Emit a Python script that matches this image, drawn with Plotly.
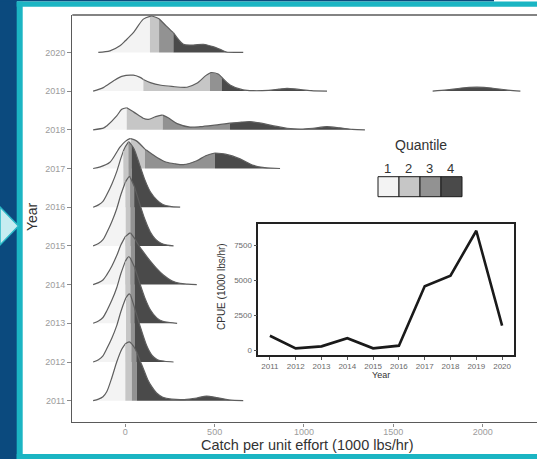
import plotly.graph_objects as go

# ---------------- data ----------------
years = [2011, 2012, 2013, 2014, 2015, 2016, 2017, 2018, 2019, 2020]

# ridge outlines: CPUE value and ridge height (in units of row spacing)
ridge_x_2011 = [-180, -150, -125, -104, -75, -48, -20, 0, 22, 36, 50, 64, 80, 100, 125, 150, 175, 210, 260, 330, 400, 455, 510, 580, 660]
ridge_h_2011 = [0, 0.04, 0.1, 0.23, 0.6, 1.0, 1.33, 1.47, 1.52, 1.47, 1.38, 1.25, 1.06, 0.84, 0.55, 0.35, 0.2, 0.09, 0.04, 0.03, 0.07, 0.12, 0.08, 0.02, 0]
ridge_x_2012 = [-180, -150, -125, -104, -75, -48, -25, 0, 4, 22, 30, 52, 82, 120, 150, 180, 220, 270]
ridge_h_2012 = [0, 0.06, 0.16, 0.34, 0.62, 0.94, 1.3, 1.62, 1.66, 1.76, 1.72, 1.4, 0.94, 0.42, 0.17, 0.06, 0.02, 0]
ridge_x_2013 = [-180, -150, -125, -104, -75, -48, -25, 0, 18, 28, 52, 80, 110, 140, 176, 210, 250, 290]
ridge_h_2013 = [0, 0.06, 0.15, 0.32, 0.6, 0.92, 1.28, 1.6, 1.72, 1.69, 1.45, 1.05, 0.65, 0.35, 0.14, 0.05, 0.02, 0]
ridge_x_2014 = [-180, -150, -125, -104, -75, -48, -25, 0, 25, 30, 54, 73, 100, 138, 175, 213, 260, 306, 350, 400]
ridge_h_2014 = [0, 0.05, 0.12, 0.25, 0.48, 0.75, 1.02, 1.24, 1.33, 1.33, 1.18, 1.03, 0.85, 0.62, 0.42, 0.25, 0.1, 0.03, 0.01, 0]
ridge_x_2015 = [-180, -150, -125, -104, -75, -48, -25, 0, 2, 22, 28, 52, 80, 110, 140, 170, 200, 235, 270]
ridge_h_2015 = [0, 0.06, 0.16, 0.34, 0.63, 0.96, 1.32, 1.64, 1.66, 1.79, 1.77, 1.52, 1.1, 0.68, 0.36, 0.17, 0.07, 0.02, 0]
ridge_x_2016 = [-180, -150, -125, -104, -75, -48, -25, -11, 0, 17, 20, 36, 50, 80, 110, 140, 176, 210, 250, 307]
ridge_h_2016 = [0, 0.06, 0.15, 0.32, 0.6, 0.92, 1.26, 1.45, 1.56, 1.68, 1.69, 1.6, 1.5, 1.1, 0.7, 0.4, 0.19, 0.07, 0.02, 0]
ridge_x_2017 = [-180, -140, -86, -30, 0, 26, 30, 60, 110, 120, 180, 232, 280, 325, 400, 450, 502, 560, 642, 717, 780, 866]
ridge_h_2017 = [0, 0.04, 0.16, 0.55, 0.7, 0.77, 0.77, 0.72, 0.5, 0.47, 0.28, 0.16, 0.12, 0.1, 0.2, 0.33, 0.4, 0.37, 0.25, 0.08, 0.02, 0]
ridge_x_2018 = [-180, -120, -104, -48, -20, 8, 50, 100, 129, 170, 204, 209, 240, 290, 362, 420, 500, 586, 650, 698, 760, 830, 905, 980, 1050, 1128, 1200, 1270, 1341]
ridge_h_2018 = [0, 0.05, 0.1, 0.36, 0.53, 0.57, 0.45, 0.3, 0.27, 0.34, 0.38, 0.38, 0.31, 0.16, 0.07, 0.08, 0.12, 0.17, 0.2, 0.21, 0.17, 0.1, 0.04, 0.02, 0.04, 0.08, 0.05, 0.01, 0]
ridge_x_2019 = [-180, -123, -67, -20, 45, 80, 101, 140, 200, 260, 345, 400, 450, 474, 483, 520, 539, 586, 660, 720, 800, 860, 905, 960, 1040, 1129]
ridge_h_2019 = [0, 0.09, 0.26, 0.38, 0.41, 0.36, 0.3, 0.22, 0.15, 0.12, 0.1, 0.2, 0.4, 0.47, 0.48, 0.44, 0.36, 0.16, 0.03, 0.01, 0.02, 0.05, 0.07, 0.05, 0.01, 0]
ridge_x_2019b = [1720, 1800, 1880, 1968, 2050, 2130, 2211]
ridge_h_2019b = [0, 0.03, 0.08, 0.1, 0.08, 0.03, 0]
ridge_x_2020 = [-151, -86, -30, 0, 45, 101, 138, 148, 189, 230, 269, 325, 380, 437, 490, 530, 567, 620, 660]
ridge_h_2020 = [0, 0.04, 0.17, 0.3, 0.51, 0.86, 0.93, 0.94, 0.87, 0.68, 0.51, 0.21, 0.19, 0.21, 0.15, 0.08, 0.01, 0, 0]

# quantile cut points (25%, 50%, 75%) per year
quant_2011 = [0, 36, 64]
quant_2012 = [4, 30, 52]
quant_2013 = [0, 28, 52]
quant_2014 = [0, 30, 54]
quant_2015 = [2, 28, 52]
quant_2016 = [-11, 17, 36]
quant_2017 = [30, 110, 502]
quant_2018 = [8, 209, 586]
quant_2019 = [101, 474, 539]
quant_2020 = [138, 189, 269]

quantile_labels = ["1", "2", "3", "4"]
quantile_colors = ["#f3f3f3", "#c6c6c6", "#929292", "#4a4a4a"]

# inset: yearly CPUE
inset_years = years
inset_cpue = [1020, 120, 260, 840, 120, 310, 4550, 5310, 8520, 1740]

x_ticks = [0, 500, 1000, 1500, 2000]
inset_y_ticks = [0, 2500, 5000, 7500]

# ---------------- assemble ----------------
ridges = {
    2011: [(ridge_x_2011, ridge_h_2011)], 2012: [(ridge_x_2012, ridge_h_2012)],
    2013: [(ridge_x_2013, ridge_h_2013)], 2014: [(ridge_x_2014, ridge_h_2014)],
    2015: [(ridge_x_2015, ridge_h_2015)], 2016: [(ridge_x_2016, ridge_h_2016)],
    2017: [(ridge_x_2017, ridge_h_2017)], 2018: [(ridge_x_2018, ridge_h_2018)],
    2019: [(ridge_x_2019, ridge_h_2019), (ridge_x_2019b, ridge_h_2019b)],
    2020: [(ridge_x_2020, ridge_h_2020)],
}
quants = {2011: quant_2011, 2012: quant_2012, 2013: quant_2013, 2014: quant_2014,
          2015: quant_2015, 2016: quant_2016, 2017: quant_2017, 2018: quant_2018,
          2019: quant_2019, 2020: quant_2020}

W, H = 537, 459
def px(x):
    return x / W
def py(y):
    return 1 - y / H

OUTLINE = "#5e5e5e"
fig = go.Figure()

for yr in sorted(years, reverse=True):
    q = quants[yr]
    for xs, hs in ridges[yr]:
        cuts = [xs[0]] + [c for c in q if xs[0] < c < xs[-1]] + [xs[-1]]
        for a, b in zip(cuts[:-1], cuts[1:]):
            mid = (a + b) / 2
            qi = sum(1 for c in q if mid > c)
            seg = [(x, h) for x, h in zip(xs, hs) if a <= x <= b]
            sx = [p[0] for p in seg]
            sy = [yr + p[1] for p in seg]
            fig.add_trace(go.Scatter(x=[a, b], y=[yr, yr], mode="lines",
                                     line=dict(width=0), hoverinfo="skip",
                                     showlegend=False, xaxis="x", yaxis="y"))
            fig.add_trace(go.Scatter(x=sx, y=sy, mode="lines", fill="tonexty",
                                     fillcolor=quantile_colors[qi],
                                     line=dict(color=OUTLINE, width=1.2, shape="spline", smoothing=0.8),
                                     hoverinfo="skip", showlegend=False,
                                     xaxis="x", yaxis="y"))

# inset line
fig.add_trace(go.Scatter(x=inset_years, y=inset_cpue, mode="lines",
                         line=dict(color="#1a1a1a", width=2.6),
                         showlegend=False, xaxis="x2", yaxis="y2"))

tick_font = dict(family="Liberation Sans, Arial, sans-serif", size=9, color="#9c9c9c")
inset_font = dict(family="Liberation Sans, Arial, sans-serif", size=8, color="#6a6a6a")
title_font = "Liberation Sans, Arial, sans-serif"

fig.update_layout(
    width=W, height=H,
    margin=dict(l=0, r=0, t=0, b=0),
    paper_bgcolor="white", plot_bgcolor="white",
    showlegend=False,
    xaxis=dict(domain=[px(72.3), 1], range=[-296.6, 2304], tickvals=x_ticks,
               ticks="outside", ticklen=3, tickcolor="#8a8a8a", tickfont=tick_font,
               ticklabelstandoff=-2,
               showline=True, linecolor="#5a5a5a", linewidth=1.4,
               showgrid=False, zeroline=False, anchor="y"),
    yaxis=dict(domain=[py(422.3), py(15)], range=[2010.442, 2020.966],
               tickvals=years, ticktext=[str(y) for y in years],
               ticks="outside", ticklen=4, tickcolor="#8a8a8a", tickfont=tick_font,
               showline=True, linecolor="#5a5a5a", linewidth=1.4,
               showgrid=False, zeroline=False, anchor="x"),
    xaxis2=dict(domain=[px(258.3), px(513.7)], range=[2010.55, 2020.45],
                tickvals=inset_years, ticks="outside", ticklen=3, tickcolor="#555",
                tickfont=inset_font, showline=True, mirror=True,
                linecolor="#222", linewidth=1.5, showgrid=False, zeroline=False,
                anchor="y2"),
    yaxis2=dict(domain=[py(355), py(224.3)], range=[-357, 8979],
                tickvals=inset_y_ticks, ticks="outside", ticklen=3, tickcolor="#555",
                tickfont=inset_font, showline=True, mirror=True,
                linecolor="#222", linewidth=1.5, showgrid=False, zeroline=False,
                anchor="x2"),
)

shapes = []
# slide decoration: dark blue edge, teal frame, arrow
shapes.append(dict(type="rect", xref="paper", yref="paper", x0=0, x1=px(17), y0=0, y1=1,
                   fillcolor="#0b4a7e", line=dict(width=0), layer="below"))
shapes.append(dict(type="rect", xref="paper", yref="paper", x0=0, x1=px(494), y0=py(1.6), y1=1,
                   fillcolor="#0b4a7e", line=dict(width=0), layer="below"))
shapes.append(dict(type="rect", xref="paper", yref="paper", x0=px(16.7), x1=px(22.7), y0=0, y1=py(1.6),
                   fillcolor="#1bb5c3", line=dict(width=0), layer="below"))
shapes.append(dict(type="rect", xref="paper", yref="paper", x0=px(16.7), x1=1, y0=py(6.7), y1=py(1.6),
                   fillcolor="#1bb5c3", line=dict(width=0), layer="below"))
shapes.append(dict(type="rect", xref="paper", yref="paper", x0=px(16.7), x1=1, y0=0, y1=py(454),
                   fillcolor="#1bb5c3", line=dict(width=0), layer="below"))
shapes.append(dict(type="path", xref="paper", yref="paper",
                   path=f"M 0 {py(207)} L {px(18.5)} {py(226)} L 0 {py(245)} Z",
                   fillcolor="#c6ecf1", line=dict(color="#2bb8c6", width=1.5), layer="above"))
# top border of main panel
shapes.append(dict(type="line", xref="paper", yref="paper", x0=px(72.3), x1=1, y0=py(15), y1=py(15),
                   line=dict(color="#5a5a5a", width=1.4)))
# legend keys
box_left, box_w = 378, 21
for i, col in enumerate(quantile_colors):
    shapes.append(dict(type="rect", xref="paper", yref="paper",
                       x0=px(box_left + i * box_w), x1=px(box_left + (i + 1) * box_w),
                       y0=py(196.7), y1=py(176.7), fillcolor=col,
                       line=dict(color="#1a1a1a", width=1)))

def ann(text, x, y, size, angle=0, color="#333"):
    return dict(text=text, x=px(x), y=py(y), xref="paper", yref="paper",
                xanchor="center", yanchor="middle", textangle=angle,
                showarrow=False, font=dict(family=title_font, size=size, color=color))

annotations = [
    ann("Catch per unit effort (1000 lbs/hr)", 307, 445, 14.5),
    ann("Year", 32, 217, 14, -90),
    ann("CPUE (1000 lbs/hr)", 221, 287, 10, -90),
    ann("Year", 381, 375, 9),
    ann("Quantile", 421, 145, 14),
]
for i, lab in enumerate(quantile_labels):
    annotations.append(ann(lab, box_left + (i + 0.5) * box_w - 1.5, 168.5, 13))

fig.update_layout(shapes=shapes, annotations=annotations)
fig.write_html("out.html")
